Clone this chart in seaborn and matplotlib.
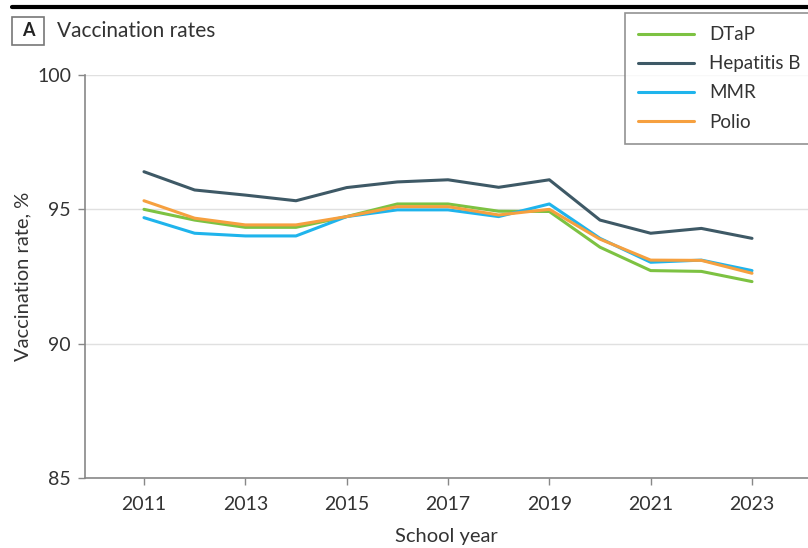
import numpy as np
import pandas as pd
import seaborn as sns
import matplotlib.pyplot as plt
from matplotlib.patches import Rectangle
from matplotlib.lines import Line2D

# school years and rates
years = [2011, 2012, 2013, 2014, 2015, 2016, 2017, 2018, 2019, 2020, 2021, 2022, 2023]
dtap = [95.0, 94.6, 94.33, 94.33, 94.73, 95.2, 95.2, 94.93, 94.92, 93.59, 92.72, 92.69, 92.31]
hepb = [96.4, 95.72, 95.53, 95.32, 95.81, 96.02, 96.1, 95.82, 96.1, 94.6, 94.11, 94.29, 93.92]
mmr = [94.69, 94.11, 94.01, 94.01, 94.73, 94.98, 94.98, 94.73, 95.2, 93.92, 93.03, 93.11, 92.72]
polio = [95.32, 94.67, 94.42, 94.42, 94.73, 95.1, 95.1, 94.79, 95.0, 93.89, 93.11, 93.1, 92.62]

vaccines = ["DTaP", "Hepatitis B", "MMR", "Polio"]
colors = ["#7dc242", "#3e5966", "#1fb4ec", "#f6a03f"]

df = pd.DataFrame({"DTaP": dtap, "Hepatitis B": hepb, "MMR": mmr, "Polio": polio}, index=years)
df = df.reset_index().rename(columns={"index": "Year"})
long = df.melt(id_vars="Year", var_name="Vaccine", value_name="Rate")

sns.set_style("white")
plt.rcParams['font.family'] = ['Lato', 'DejaVu Sans']
plt.rcParams['text.color'] = '#333333'
plt.rcParams['axes.labelcolor'] = '#333333'
plt.rcParams['xtick.color'] = '#333333'
plt.rcParams['ytick.color'] = '#333333'

fig = plt.figure(figsize=(8.08, 5.48), dpi=100)
ax = fig.add_axes([85 / 808, 70 / 548, 1 - 85 / 808, 403 / 548])

sns.lineplot(data=long, x="Year", y="Rate", hue="Vaccine", hue_order=vaccines,
             palette=colors, linewidth=2.2, ax=ax, legend=False)

ax.set_ylim(85, 100)
ax.set_xlim(2009.836, 2024.105)
ax.set_yticks([85, 90, 95, 100])
ax.set_xticks([2011, 2013, 2015, 2017, 2019, 2021, 2023])
ax.yaxis.grid(True, color="#e0e0e0", linewidth=1)
ax.set_axisbelow(True)
for s in ["top", "right"]:
    ax.spines[s].set_visible(False)
for s in ["left", "bottom"]:
    ax.spines[s].set_color("#888888")
    ax.spines[s].set_linewidth(1.2)
ax.tick_params(axis="both", which="both", length=5, width=1, color="#888888",
               labelsize=14, direction="out", bottom=True, left=True, pad=5)
ax.tick_params(axis="x", pad=8)
ax.set_xlabel("School year", fontsize=14.5, labelpad=11)
ax.set_ylabel("Vaccination rate, %", fontsize=14.5, labelpad=4)

handles = [Line2D([0], [0], color=c, linewidth=2.2) for c in colors]
leg = fig.legend(handles, vaccines, loc="upper left", bbox_to_anchor=(625 / 808, 1 - 13 / 548),
                 fontsize=13.5, frameon=True, handlelength=3.0, handletextpad=0.8,
                 labelspacing=0.65, borderpad=0.7, borderaxespad=0, fancybox=False)
leg.get_frame().set_edgecolor("#777777")
leg.get_frame().set_linewidth(1.2)

# panel header
fig.add_artist(Line2D([12 / 808, 1], [1 - 7 / 548, 1 - 7 / 548], color="black", linewidth=3))
fig.add_artist(Rectangle((12 / 808, 1 - 45 / 548), 32 / 808, 28 / 548, fill=False,
                         edgecolor="#777777", linewidth=1.2))
fig.text(28 / 808, 1 - 31 / 548, "A", fontsize=13, fontweight="bold", ha="center", va="center", color="#222222")
fig.text(57 / 808, 1 - 31 / 548, "Vaccination rates", fontsize=15, ha="left", va="center", color="#333333")

plt.savefig("out.png", dpi=100)
